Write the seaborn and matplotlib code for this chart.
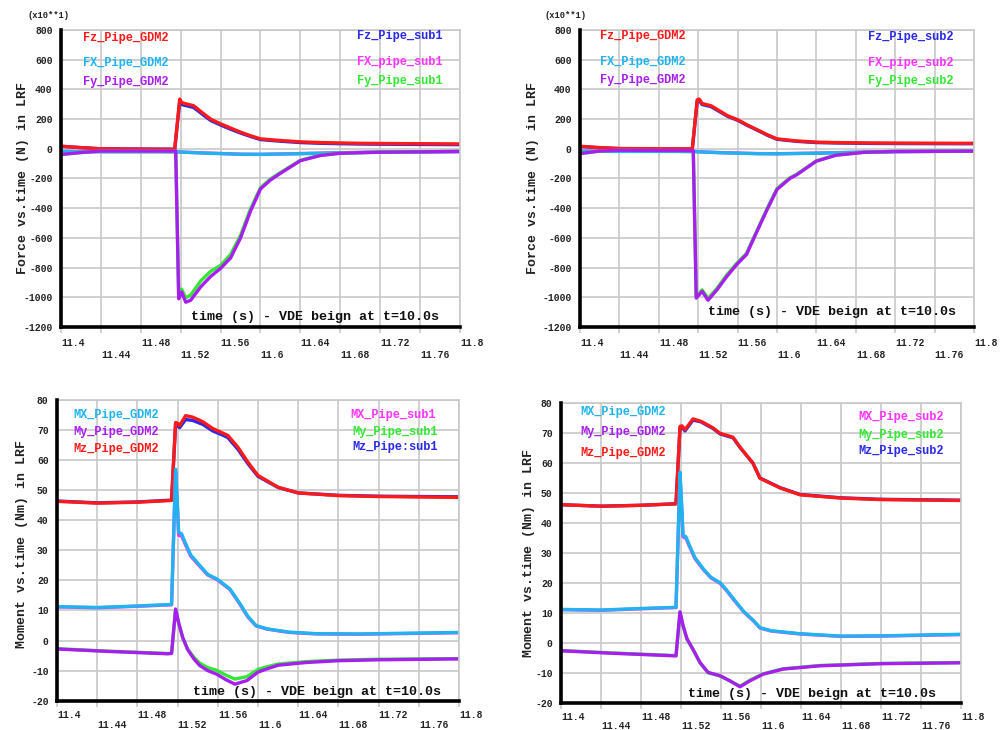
import matplotlib
matplotlib.use("Agg")
import matplotlib.pyplot as plt
import seaborn as sns

# ---------------- data ----------------
# Top-left: forces (x10 N), GDM2 vs sub1
tl_t_fz = [11.40, 11.42, 11.44, 11.48, 11.514, 11.519, 11.521, 11.524, 11.533, 11.543, 11.55, 11.56,
           11.57, 11.58, 11.59, 11.60, 11.62, 11.64, 11.66, 11.70, 11.74, 11.80]
tl_fz_gdm2 = [17, 8, 0, -2, -3, 335, 312, 305, 290, 236, 200, 168, 140, 112, 88, 67, 56, 47, 42, 37, 35, 33]
tl_fz_sub1 = [17, 8, 0, -2, -3, 318, 298, 293, 278, 226, 191, 160, 132, 106, 83, 62, 51, 42, 37, 32, 30, 28]
tl_t_fx = [11.40, 11.44, 11.50, 11.515, 11.54, 11.58, 11.60, 11.64, 11.68, 11.72, 11.80]
tl_fx_gdm2 = [-18, -20, -20, -21, -28, -37, -38, -33, -27, -23, -19]
tl_fx_sub1 = [-17, -19, -19, -20, -27, -36, -37, -32, -26, -22, -18]
tl_t_fy = [11.40, 11.42, 11.44, 11.50, 11.515, 11.518, 11.521, 11.525, 11.53, 11.54, 11.55, 11.56,
           11.57, 11.58, 11.59, 11.60, 11.61, 11.62, 11.64, 11.66, 11.68, 11.72, 11.80]
tl_fy_gdm2 = [-38, -25, -15, -15, -15, -1010, -965, -1033, -1020, -930, -860, -805,
              -735, -600, -420, -270, -210, -165, -80, -45, -30, -23, -18]
tl_fy_sub1 = [-38, -25, -15, -15, -15, -990, -945, -1003, -985, -890, -825, -785,
              -712, -582, -405, -262, -203, -160, -77, -43, -29, -22, -17]

# Top-right: forces (x10 N), GDM2 vs sub2
tr_t_fz = [11.40, 11.42, 11.44, 11.48, 11.514, 11.519, 11.521, 11.524, 11.533, 11.543, 11.55, 11.56,
           11.57, 11.58, 11.59, 11.60, 11.62, 11.64, 11.66, 11.70, 11.74, 11.80]
tr_fz_gdm2 = [17, 8, 2, 0, -1, 330, 335, 305, 290, 250, 222, 196, 160, 128, 95, 67, 53, 45, 42, 39, 38, 37]
tr_fz_sub2 = [16, 7, 1, -1, -2, 322, 326, 298, 284, 245, 218, 192, 157, 125, 92, 64, 50, 42, 39, 36, 35, 34]
tr_t_fx = [11.40, 11.44, 11.50, 11.515, 11.54, 11.58, 11.60, 11.64, 11.68, 11.72, 11.80]
tr_fx_gdm2 = [-16, -18, -18, -19, -26, -33, -34, -30, -24, -20, -16]
tr_fx_sub2 = [-15, -17, -17, -18, -25, -32, -33, -29, -23, -19, -15]
tr_t_fy = [11.40, 11.42, 11.44, 11.50, 11.515, 11.518, 11.524, 11.530, 11.539, 11.549, 11.559, 11.569,
           11.579, 11.590, 11.600, 11.613, 11.62, 11.64, 11.66, 11.69, 11.72, 11.80]
tr_fy_gdm2 = [-32, -15, -10, -12, -13, -1005, -960, -1020, -950, -860, -780, -712,
              -566, -409, -274, -200, -175, -83, -43, -23, -18, -16]
tr_fy_sub2 = [-32, -15, -10, -12, -13, -995, -950, -1008, -940, -850, -772, -705,
              -560, -402, -268, -196, -172, -81, -42, -22, -17, -15]

# Bottom-left: moments (Nm), GDM2 vs sub1
bl_t_mz = [11.40, 11.44, 11.48, 11.514, 11.518, 11.520, 11.522, 11.528, 11.535, 11.545, 11.555, 11.565,
           11.57, 11.58, 11.59, 11.60, 11.62, 11.64, 11.68, 11.72, 11.80]
bl_mz_gdm2 = [46.3, 45.7, 46.0, 46.6, 72.5, 72.3, 71.5, 74.8, 74.3, 72.8, 70.5, 69.0,
              68.2, 64.3, 59.3, 54.9, 51.0, 49.1, 48.2, 47.9, 47.6]
bl_mz_sub1 = [46.4, 45.8, 46.1, 46.7, 72.0, 71.5, 70.8, 73.5, 73.2, 71.9, 69.7, 68.3,
              67.5, 63.6, 58.8, 54.6, 50.9, 49.1, 48.3, 48.0, 47.8]
bl_t_mx = [11.40, 11.44, 11.48, 11.514, 11.518, 11.520, 11.521, 11.524, 11.527, 11.533, 11.542, 11.55,
           11.559, 11.565, 11.572, 11.582, 11.59, 11.598, 11.609, 11.631, 11.658, 11.70, 11.80]
bl_mx_gdm2 = [11.3, 11.0, 11.5, 12.0, 57.0, 44.0, 36.0, 35.5, 33.0, 28.5, 25.0, 22.0,
              20.5, 19.0, 17.2, 12.3, 8.0, 5.0, 3.9, 2.8, 2.3, 2.2, 2.7]
bl_mx_sub1 = [11.2, 10.9, 11.4, 11.9, 56.0, 43.0, 35.0, 34.8, 32.5, 28.1, 24.7, 21.8,
              20.3, 18.8, 17.0, 12.1, 7.8, 4.9, 3.8, 2.7, 2.2, 2.1, 2.6]
bl_t_my = [11.40, 11.45, 11.51, 11.514, 11.518, 11.521, 11.525, 11.53, 11.536, 11.542, 11.55, 11.559,
           11.568, 11.577, 11.589, 11.60, 11.609, 11.62, 11.648, 11.68, 11.72, 11.80]
bl_my_gdm2 = [-2.8, -3.6, -4.4, -4.3, 10.5, 6.0, 1.1, -3.0, -6.0, -8.3, -10.0, -11.2,
              -13.0, -14.5, -13.3, -10.5, -9.4, -8.2, -7.3, -6.7, -6.4, -6.1]
bl_my_sub1 = [-2.7, -3.5, -4.3, -4.2, 10.3, 5.8, 1.0, -2.8, -5.5, -7.5, -9.0, -9.9,
              -11.5, -12.8, -12.0, -9.6, -8.7, -7.8, -7.0, -6.5, -6.2, -6.0]

# Bottom-right: moments (Nm), GDM2 vs sub2
br_t_mz = [11.40, 11.44, 11.48, 11.515, 11.519, 11.521, 11.524, 11.532, 11.54, 11.552, 11.559, 11.572,
           11.579, 11.592, 11.599, 11.619, 11.639, 11.68, 11.72, 11.80]
br_mz_gdm2 = [46.2, 45.7, 46.0, 46.5, 72.3, 72.5, 71.2, 74.8, 74.0, 71.8, 70.0, 68.7,
              65.4, 60.0, 55.0, 51.8, 49.5, 48.4, 47.9, 47.6]
br_mz_sub2 = [46.2, 45.7, 46.0, 46.5, 71.9, 72.0, 70.8, 74.4, 73.8, 71.6, 69.8, 68.5,
              65.3, 60.0, 55.1, 51.9, 49.6, 48.5, 48.0, 47.7]
br_t_mx = [11.40, 11.44, 11.48, 11.515, 11.519, 11.521, 11.522, 11.525, 11.528, 11.534, 11.543, 11.55,
           11.559, 11.565, 11.573, 11.583, 11.593, 11.599, 11.61, 11.639, 11.68, 11.72, 11.80]
br_mx_gdm2 = [11.3, 11.1, 11.6, 12.0, 57.0, 44.0, 36.0, 35.5, 33.0, 28.5, 24.5, 22.0,
              20.2, 18.0, 14.6, 10.5, 7.4, 5.2, 4.2, 3.2, 2.4, 2.5, 3.0]
br_mx_sub2 = [11.2, 11.0, 11.5, 11.9, 56.0, 43.0, 35.5, 35.0, 32.6, 28.2, 24.3, 21.8,
              20.0, 17.8, 14.4, 10.4, 7.3, 5.1, 4.1, 3.1, 2.3, 2.4, 2.9]
br_t_my = [11.40, 11.45, 11.515, 11.519, 11.522, 11.526, 11.532, 11.539, 11.547, 11.559, 11.569, 11.579,
           11.589, 11.602, 11.622, 11.659, 11.72, 11.80]
br_my_gdm2 = [-2.5, -3.3, -4.2, 10.5, 6.0, 1.5, -2.0, -6.4, -9.7, -10.8, -12.5, -14.5,
              -12.5, -10.3, -8.6, -7.5, -6.8, -6.5]
br_my_sub2 = [-2.4, -3.2, -4.1, 10.3, 5.8, 1.3, -2.1, -6.5, -9.8, -10.9, -12.6, -14.3,
              -12.3, -10.2, -8.5, -7.4, -6.7, -6.4]

x_ticks = [11.4, 11.44, 11.48, 11.52, 11.56, 11.6, 11.64, 11.68, 11.72, 11.76, 11.8]
x_tick_labels = ["11.4", "11.44", "11.48", "11.52", "11.56", "11.6", "11.64", "11.68", "11.72", "11.76", "11.8"]
force_ticks = [800, 600, 400, 200, 0, -200, -400, -600, -800, -1000, -1200]
moment_ticks = [80, 70, 60, 50, 40, 30, 20, 10, 0, -10, -20]

force_ylabel = "Force vs.time (N) in LRF"
moment_ylabel = "Moment vs.time (Nm) in LRF"
xlabel_text = "time (s) - VDE beign at t=10.0s"

# ---------------- style ----------------
sns.set_style("white")
plt.rcParams["font.family"] = ["Liberation Mono", "DejaVu Sans Mono"]

RED = "#ff1a1a"
BLUE = "#2a2ae8"
CYAN = "#1fb4f0"
MAGENTA = "#ff33ff"
PURPLE = "#a81ef0"
GREEN = "#33e833"
GRID = "#c8c8c8"
LW = 2.4

fig = plt.figure(figsize=(10.04, 7.30), dpi=100)
fig.patch.set_facecolor("white")

pos = {
    "tl": [61 / 1004, 1 - 327 / 730, 399 / 1004, 297 / 730],
    "tr": [580 / 1004, 1 - 327 / 730, 394 / 1004, 297 / 730],
    "bl": [57 / 1004, 1 - 700.7 / 730, 402 / 1004, 300.7 / 730],
    "br": [561 / 1004, 1 - 703.3 / 730, 400 / 1004, 300 / 730],
}


def line(ax, t, v, color):
    sns.lineplot(x=t, y=v, ax=ax, color=color, linewidth=LW, estimator=None,
                 sort=False, legend=False)


def style_axes(ax, yticks, ylim, ylabel, ylab_x, ylab_y, xl_pos, xpad=4, xls=1.25):
    ax.set_xlim(11.4, 11.8)
    ax.set_ylim(*ylim)
    ax.set_yticks(yticks)
    ax.set_yticklabels([str(v) for v in yticks], fontsize=7, fontweight="bold", color="#222222")
    ax.set_xticks(x_ticks)
    labs = [lab if i % 2 == 0 else "\n" + lab for i, lab in enumerate(x_tick_labels)]
    ax.set_xticklabels(labs, fontsize=7, fontweight="bold", color="#222222", linespacing=xls)
    for lbl in ax.get_xticklabels():
        lbl.set_horizontalalignment("left")
    ax.tick_params(axis="x", length=4, width=1.2, color=GRID, pad=xpad, direction="out", bottom=True)
    ax.tick_params(axis="y", length=0, pad=6, left=True)
    ax.grid(True, color=GRID, linewidth=1.2)
    ax.set_axisbelow(True)
    for s in ["top", "right"]:
        ax.spines[s].set_color(GRID)
        ax.spines[s].set_linewidth(1.2)
    for s in ["left", "bottom"]:
        ax.spines[s].set_color("black")
        ax.spines[s].set_linewidth(2.6)
        ax.spines[s].set_zorder(5)
    ax.set_xlabel("")
    ax.set_ylabel(ylabel, fontsize=9.5, fontweight="bold", color="#222222")
    ax.yaxis.set_label_coords(ylab_x, ylab_y)
    ax.text(xl_pos[0], xl_pos[1], xlabel_text, transform=ax.transAxes, fontsize=9.6,
            fontweight="bold", color="#111111", ha="left", va="center", zorder=6)


def legend_text(ax, items):
    for (x, y, s, c) in items:
        ax.text(x, y, s, transform=ax.transAxes, color=c, fontsize=8.6, fontweight="bold",
                ha="left", va="center", zorder=6)


# ---- top-left ----
ax = fig.add_axes(pos["tl"])
line(ax, tl_t_fz, tl_fz_sub1, BLUE)
line(ax, tl_t_fz, tl_fz_gdm2, RED)
line(ax, tl_t_fx, tl_fx_sub1, MAGENTA)
line(ax, tl_t_fx, tl_fx_gdm2, CYAN)
line(ax, tl_t_fy, tl_fy_sub1, GREEN)
line(ax, tl_t_fy, tl_fy_gdm2, PURPLE)
style_axes(ax, force_ticks, (-1200, 800), force_ylabel, -0.081, 0.5, (0.325, 0.035))
legend_text(ax, [
    (0.055, 0.973, "Fz_Pipe_GDM2", RED),
    (0.055, 0.889, "FX_Pipe_GDM2", CYAN),
    (0.055, 0.825, "Fy_Pipe_GDM2", PURPLE),
    (0.742, 0.98, "Fz_Pipe_sub1", BLUE),
    (0.742, 0.892, "FX_pipe_sub1", MAGENTA),
    (0.742, 0.828, "Fy_Pipe_sub1", GREEN),
])

# ---- top-right ----
ax = fig.add_axes(pos["tr"])
line(ax, tr_t_fz, tr_fz_sub2, BLUE)
line(ax, tr_t_fz, tr_fz_gdm2, RED)
line(ax, tr_t_fx, tr_fx_sub2, MAGENTA)
line(ax, tr_t_fx, tr_fx_gdm2, CYAN)
line(ax, tr_t_fy, tr_fy_sub2, GREEN)
line(ax, tr_t_fy, tr_fy_gdm2, PURPLE)
style_axes(ax, force_ticks, (-1200, 800), force_ylabel, -0.103, 0.5, (0.326, 0.05))
legend_text(ax, [
    (0.051, 0.98, "Fz_Pipe_GDM2", RED),
    (0.051, 0.891, "FX_Pipe_GDM2", CYAN),
    (0.051, 0.832, "Fy_Pipe_GDM2", PURPLE),
    (0.731, 0.977, "Fz_Pipe_sub2", BLUE),
    (0.731, 0.89, "FX_pipe_sub2", MAGENTA),
    (0.731, 0.828, "Fy_Pipe_sub2", GREEN),
])

# ---- bottom-left ----
ax = fig.add_axes(pos["bl"])
line(ax, bl_t_mz, bl_mz_sub1, BLUE)
line(ax, bl_t_mz, bl_mz_gdm2, RED)
line(ax, bl_t_mx, bl_mx_sub1, MAGENTA)
line(ax, bl_t_mx, bl_mx_gdm2, CYAN)
line(ax, bl_t_my, bl_my_sub1, GREEN)
line(ax, bl_t_my, bl_my_gdm2, PURPLE)
style_axes(ax, moment_ticks, (-20, 80), moment_ylabel, -0.071, 0.52, (0.338, 0.03),
           xpad=3, xls=1.0)
legend_text(ax, [
    (0.04, 0.95, "MX_Pipe_GDM2", CYAN),
    (0.04, 0.895, "My_Pipe_GDM2", PURPLE),
    (0.04, 0.836, "Mz_Pipe_GDM2", RED),
    (0.73, 0.95, "MX_Pipe_sub1", MAGENTA),
    (0.735, 0.895, "My_Pipe_sub1", GREEN),
    (0.735, 0.843, "Mz_Pipe:sub1", BLUE),
])

# ---- bottom-right ----
ax = fig.add_axes(pos["br"])
line(ax, br_t_mz, br_mz_sub2, BLUE)
line(ax, br_t_mz, br_mz_gdm2, RED)
line(ax, br_t_mx, br_mx_sub2, MAGENTA)
line(ax, br_t_mx, br_mx_gdm2, CYAN)
line(ax, br_t_my, br_my_sub2, GREEN)
line(ax, br_t_my, br_my_gdm2, PURPLE)
style_axes(ax, moment_ticks, (-20, 80), moment_ylabel, -0.066, 0.5, (0.317, 0.03),
           xpad=2, xls=0.95)
legend_text(ax, [
    (0.0475, 0.972, "MX_Pipe_GDM2", CYAN),
    (0.0475, 0.905, "My_Pipe_GDM2", PURPLE),
    (0.0475, 0.835, "Mz_Pipe_GDM2", RED),
    (0.743, 0.953, "MX_Pipe_sub2", MAGENTA),
    (0.743, 0.894, "My_Pipe_sub2", GREEN),
    (0.743, 0.842, "Mz_Pipe_sub2", BLUE),
])

# multiplier notes above the force plots
fig.text(28 / 1004, 1 - 15 / 730, "(x10**1)", fontsize=6.3, fontweight="bold", color="#222222",
         ha="left", va="center")
fig.text(545 / 1004, 1 - 16 / 730, "(x10**1)", fontsize=6.3, fontweight="bold", color="#222222",
         ha="left", va="center")

fig.savefig("out.png", dpi=100, facecolor="white")
